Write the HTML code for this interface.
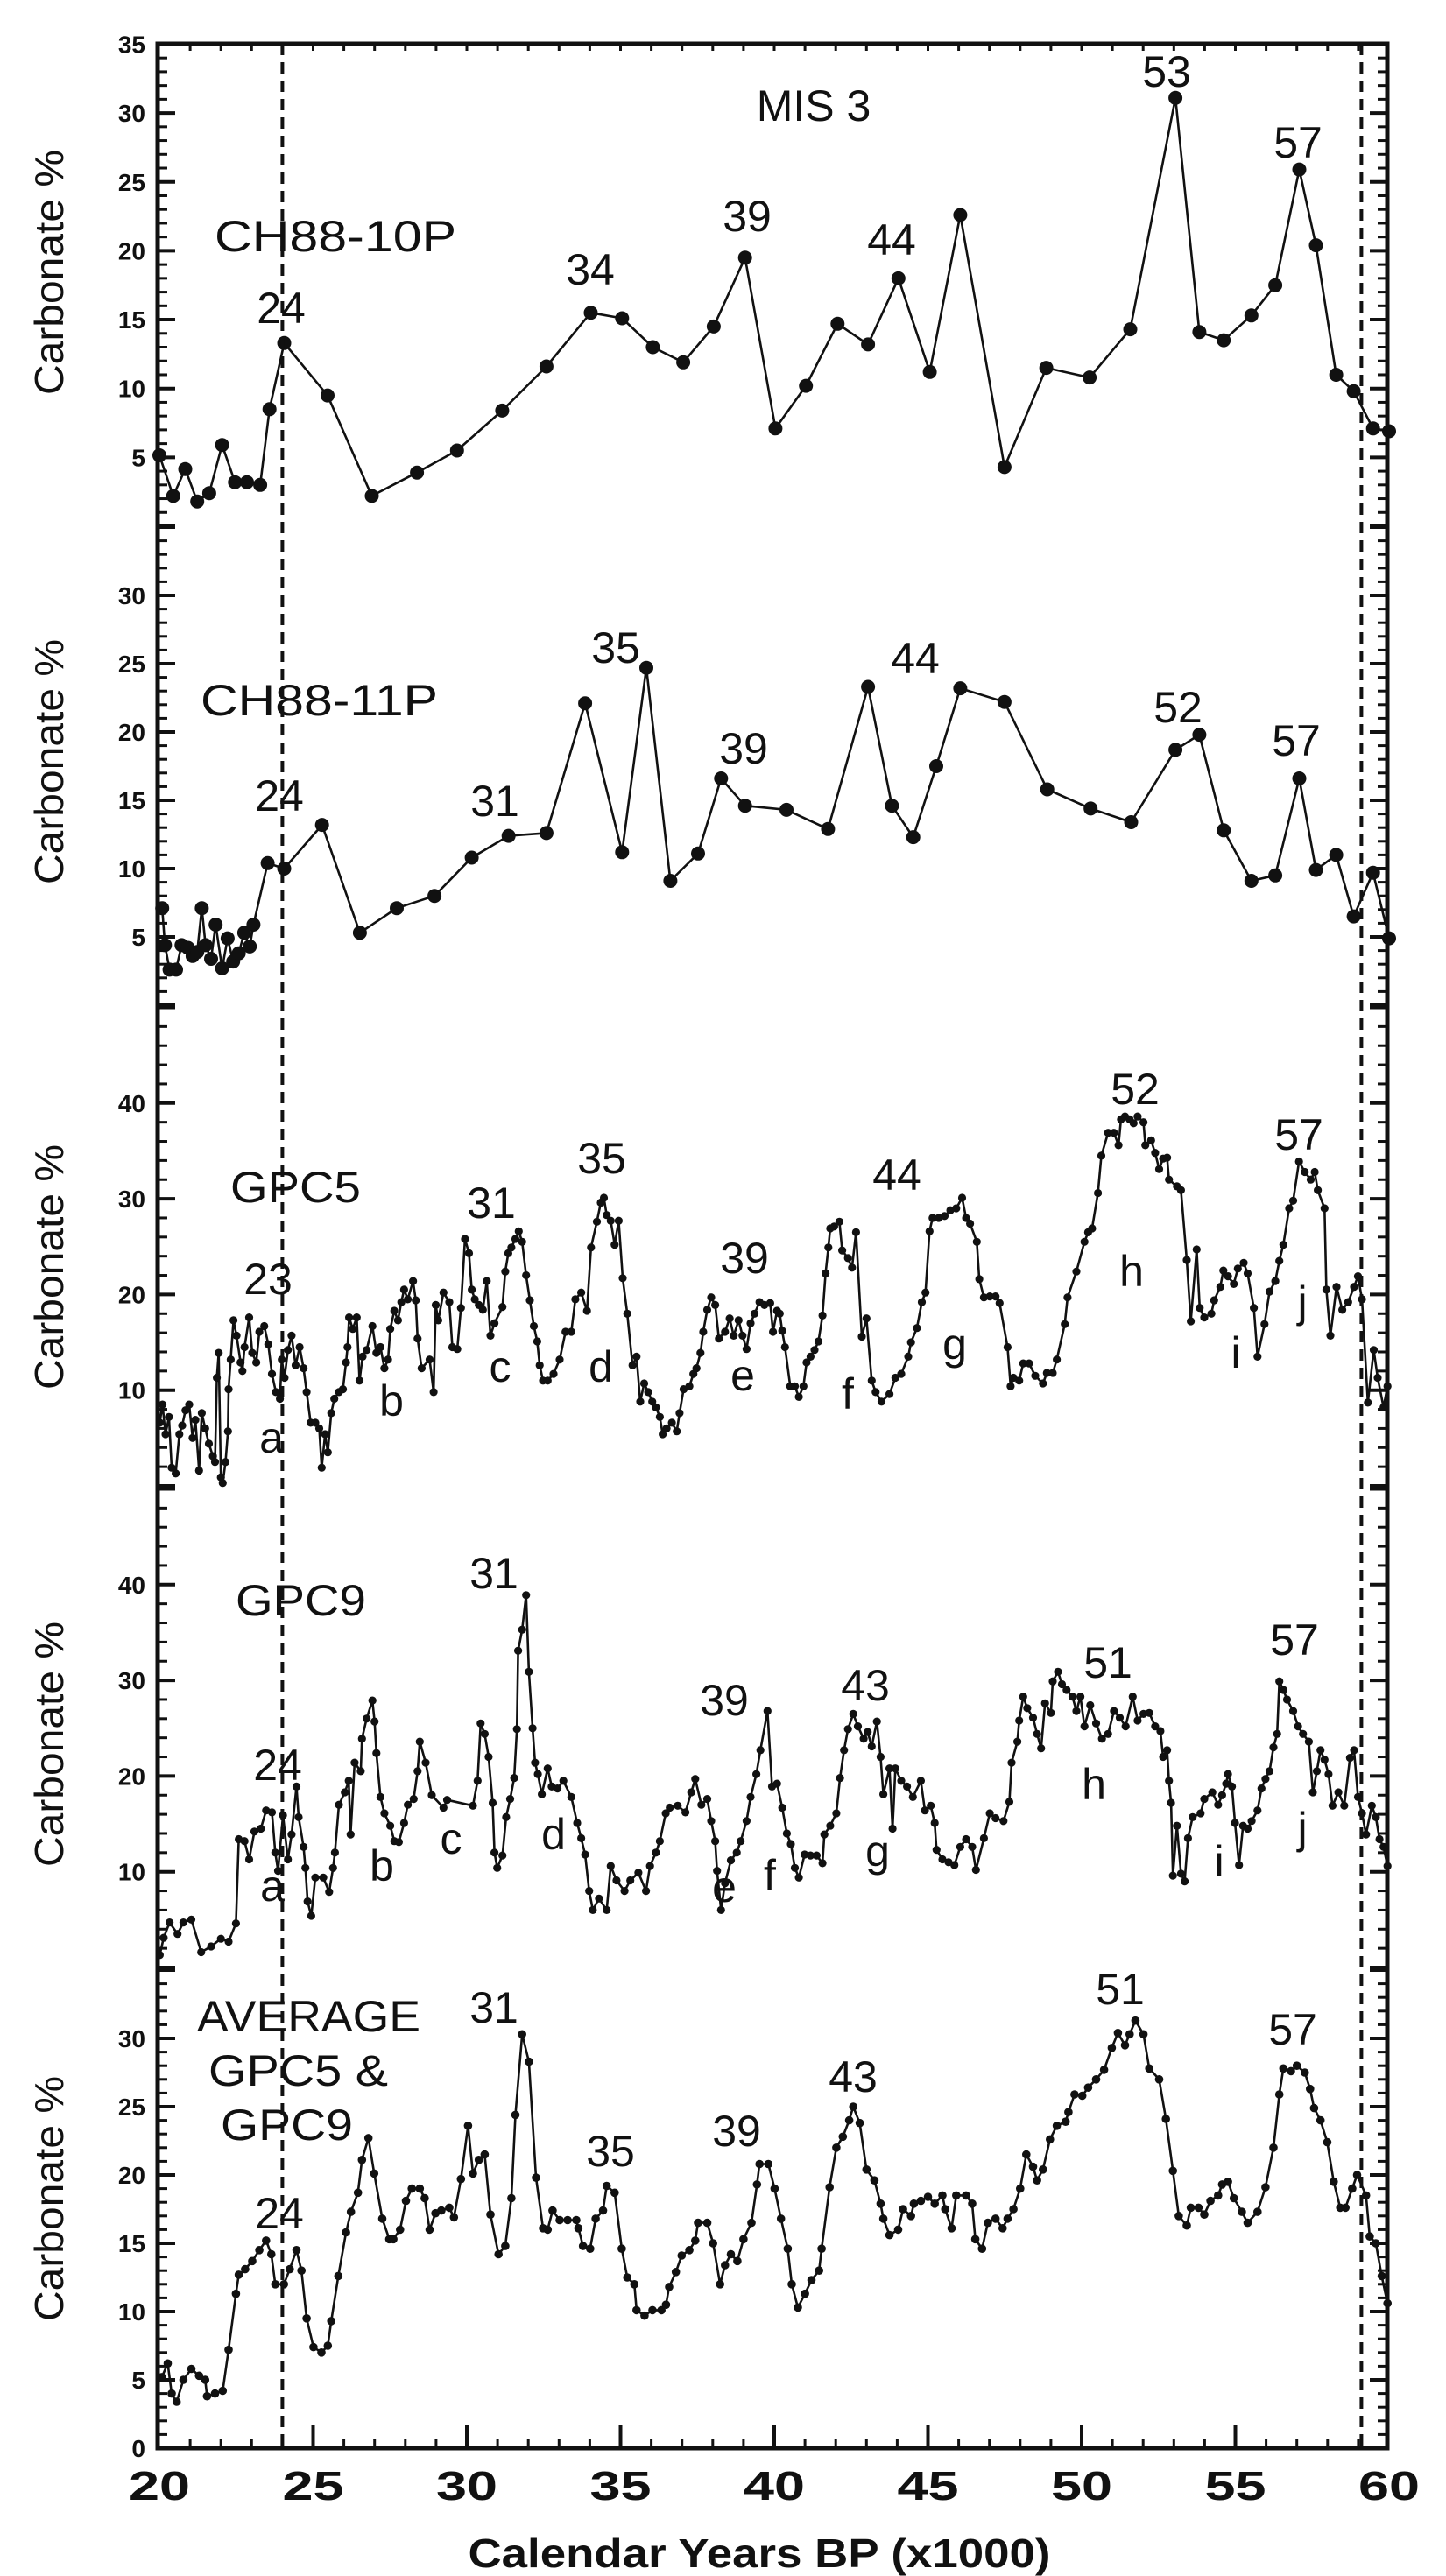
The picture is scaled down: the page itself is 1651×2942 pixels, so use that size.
<!DOCTYPE html>
<html><head><meta charset="utf-8"><title>Carbonate % MIS 3</title>
<style>
html,body{margin:0;padding:0;background:#fff;}
svg{display:block;}
.tl{font-family:"Liberation Sans",Arial,sans-serif;font-weight:bold;font-size:28px;fill:#111;}
.xl{font-family:"Liberation Sans",Arial,sans-serif;font-weight:bold;font-size:46px;fill:#111;}
.an{font-family:"Liberation Sans",Arial,sans-serif;font-size:50px;fill:#111;}
.yt{font-family:"Liberation Sans",Arial,sans-serif;font-size:46px;fill:#111;}
</style></head>
<body>
<svg id="chart" width="1651" height="2942" viewBox="0 0 1651 2942" xmlns="http://www.w3.org/2000/svg">
<rect x="0" y="0" width="1651" height="2942" fill="#fff"/>
<g id="ticks"></g>
<g id="series"></g>
<g id="labels">
<text class="an" x="929" y="138" text-anchor="middle" font-size="52">MIS 3</text>
<text class="an" x="245" y="287" textLength="276" lengthAdjust="spacingAndGlyphs">CH88-10P</text>
<text class="an" x="229" y="817" textLength="271" lengthAdjust="spacingAndGlyphs">CH88-11P</text>
<text class="an" x="263" y="1373" textLength="149" lengthAdjust="spacingAndGlyphs">GPC5</text>
<text class="an" x="269" y="1845" textLength="149" lengthAdjust="spacingAndGlyphs">GPC9</text>
<text class="an" x="225" y="2320" textLength="255" lengthAdjust="spacingAndGlyphs">AVERAGE</text>
<text class="an" x="238" y="2382" textLength="205" lengthAdjust="spacingAndGlyphs">GPC5 &amp;</text>
<text class="an" x="252" y="2444" textLength="151" lengthAdjust="spacingAndGlyphs">GPC9</text>
</g>
<g id="frame"></g>
</svg>
<script>
// ---- data ----
const xTickLabels=[20,25,30,35,40,45,50,55,60];
const p1Ticks=[5,10,15,20,25,30,35];
const p2Ticks=[5,10,15,20,25,30];
const p3Ticks=[10,20,30,40];
const p4Ticks=[10,20,30,40];
const p5Ticks=[0,5,10,15,20,25,30];

const p1Years=[20.0,20.45,20.84,21.23,21.62,22.04,22.46,22.85,23.28,23.58,24.06,25.47,26.91,28.38,29.68,31.15,32.59,34.03,35.05,36.05,37.04,38.03,39.05,40.04,41.03,42.06,43.05,44.04,45.06,46.05,47.49,48.85,50.26,51.58,53.05,53.83,54.62,55.52,56.30,57.08,57.62,58.28,58.85,59.48,60.0];
const p1Vals=[5.15,2.2,4.15,1.8,2.4,5.9,3.2,3.2,3.0,8.5,13.3,9.5,2.2,3.9,5.5,8.4,11.6,15.5,15.1,13.0,11.9,14.5,19.5,7.1,10.2,14.7,13.2,18.0,11.2,22.6,4.3,11.5,10.8,14.3,31.1,14.1,13.5,15.3,17.5,25.9,20.4,11.0,9.8,7.1,6.9];

const p2Years=[20.09,20.18,20.33,20.54,20.72,20.93,21.08,21.23,21.38,21.50,21.68,21.83,22.04,22.22,22.40,22.58,22.76,22.94,23.06,23.52,24.06,25.29,26.52,27.72,28.95,30.16,31.36,32.59,33.85,35.05,35.84,36.62,37.52,38.27,39.05,40.40,41.75,43.05,43.83,44.52,45.27,46.05,47.49,48.88,50.29,51.61,53.05,53.83,54.62,55.52,56.30,57.08,57.62,58.28,58.85,59.48,60.0];
const p2Vals=[7.1,4.4,2.6,2.6,4.4,4.2,3.6,3.9,7.1,4.4,3.4,5.9,2.7,4.9,3.2,3.8,5.3,4.3,5.9,10.4,10.0,13.2,5.3,7.1,8.0,10.8,12.4,12.6,22.1,11.2,24.7,9.1,11.1,16.6,14.6,14.3,12.9,23.3,14.6,12.3,17.5,23.2,22.2,15.8,14.4,13.4,18.7,19.8,12.8,9.1,9.5,16.6,9.9,11.0,6.5,9.7,4.9];

const gpc5Years=[20.01,20.10,20.20,20.31,20.40,20.53,20.65,20.74,20.85,20.97,21.08,21.17,21.29,21.38,21.49,21.61,21.74,21.81,21.87,21.93,22.00,22.06,22.15,22.23,22.25,22.32,22.41,22.51,22.64,22.70,22.77,22.92,23.02,23.15,23.25,23.41,23.54,23.66,23.79,23.92,23.98,24.07,24.18,24.30,24.43,24.56,24.69,24.79,24.92,25.07,25.20,25.28,25.39,25.48,25.59,25.69,25.84,25.97,26.07,26.12,26.17,26.29,26.42,26.51,26.61,26.74,26.93,27.06,27.19,27.32,27.44,27.51,27.64,27.76,27.87,27.96,28.08,28.25,28.34,28.40,28.53,28.79,28.92,28.99,29.07,29.24,29.43,29.53,29.69,29.81,29.94,30.07,30.16,30.26,30.39,30.52,30.65,30.77,30.90,31.16,31.25,31.35,31.45,31.58,31.69,31.80,31.93,32.05,32.18,32.29,32.37,32.48,32.63,32.82,33.02,33.21,33.40,33.53,33.72,33.91,34.04,34.23,34.36,34.46,34.55,34.68,34.81,34.94,35.07,35.22,35.39,35.52,35.64,35.77,35.90,36.03,36.15,36.28,36.37,36.50,36.67,36.83,36.92,37.05,37.24,37.37,37.47,37.60,37.69,37.82,37.95,38.08,38.20,38.40,38.55,38.68,38.84,38.97,39.10,39.23,39.36,39.52,39.68,39.87,39.96,
40.09,40.18,40.26,40.35,40.52,40.67,40.80,40.95,41.05,41.18,41.31,41.44,41.57,41.67,41.76,41.82,41.95,42.12,42.21,42.40,42.53,42.66,42.85,43.00,43.17,43.30,43.49,43.75,43.94,44.13,44.36,44.45,44.64,44.80,44.92,45.05,45.15,45.35,45.54,45.73,45.92,46.11,46.24,46.37,46.59,46.67,46.82,47.01,47.20,47.33,47.59,47.69,47.78,47.97,48.10,48.29,48.49,48.74,48.87,49.06,49.19,49.45,49.54,49.83,50.09,50.21,50.34,50.53,50.64,50.86,51.05,51.20,51.28,51.41,51.56,51.69,51.82,52.01,52.07,52.26,52.39,52.52,52.65,52.78,52.84,53.10,53.23,53.42,53.55,53.74,53.84,53.99,54.22,54.31,54.51,54.61,54.76,54.95,55.08,55.27,55.40,55.60,55.72,55.95,56.11,56.30,56.43,56.56,56.75,56.88,57.07,57.26,57.45,57.58,57.68,57.90,57.96,58.09,58.29,58.48,58.67,58.86,58.99,59.12,59.31,59.50,59.63,59.82,59.95];
const gpc5Vals=[6.6,8.5,5.4,7.2,1.9,1.3,5.4,6.3,7.9,8.5,5.0,6.9,1.6,7.6,6.0,4.4,3.1,2.5,11.3,13.9,0.9,0.3,2.5,5.7,10.1,13.2,17.3,15.7,12.9,12.0,14.5,17.6,13.9,12.9,16.1,16.7,14.8,11.7,9.8,9.1,13.2,11.3,14.2,15.7,12.6,14.5,12.3,9.8,6.6,6.6,6.0,1.9,5.4,3.5,7.6,9.1,9.8,10.1,12.9,14.5,17.6,16.4,17.6,11.0,13.5,14.2,16.7,13.9,14.5,12.3,13.2,16.4,18.3,17.3,19.2,20.5,19.5,21.4,19.4,15.4,12.3,13.2,9.8,18.9,17.3,20.2,19.2,14.5,14.3,18.6,25.8,24.3,20.5,19.5,18.9,18.4,21.4,15.7,17.0,18.7,22.4,24.3,24.9,25.8,26.6,25.5,22.0,19.4,16.7,15.1,12.6,11.0,11.0,11.7,13.2,16.1,16.1,19.5,20.2,18.3,24.9,27.6,29.6,30.1,28.3,27.7,25.2,27.7,21.7,18.0,12.6,13.5,8.8,10.7,9.8,8.8,8.2,7.2,5.4,6.0,6.6,5.7,7.6,10.1,10.4,11.7,12.3,13.9,16.1,18.4,19.7,18.9,15.4,16.1,17.5,15.7,17.3,15.7,14.3,17.0,18.0,19.2,18.9,19.1,16.1,
18.3,18.0,16.2,14.5,10.4,10.4,9.3,10.4,12.9,13.5,14.2,15.1,17.8,22.2,24.9,26.9,27.1,27.6,24.6,23.8,22.8,26.5,15.6,17.5,11.0,9.8,8.8,9.6,11.3,11.7,13.5,15.0,16.5,19.2,20.2,26.6,28.0,28.0,28.2,28.8,29.0,30.1,28.0,27.4,25.5,21.6,19.7,19.8,19.8,19.1,14.5,10.4,11.3,11.0,12.8,12.8,11.5,10.7,11.8,11.8,13.2,16.9,19.7,22.4,25.5,26.5,26.9,30.6,34.5,36.9,36.9,35.6,38.3,38.6,38.3,37.9,38.6,38.0,35.6,36.1,34.8,33.1,34.2,34.3,32.0,31.3,30.9,23.6,17.2,24.7,18.6,17.6,18.0,19.4,20.8,22.5,21.9,21.1,22.7,23.3,22.2,18.6,13.5,16.9,20.3,21.4,23.5,25.2,29.0,29.8,33.9,32.8,32.0,32.8,30.9,29.0,20.5,15.7,20.8,18.4,19.2,20.8,21.9,19.5,8.7,14.2,11.3,8.2,10.4];

const gpc9Years=[20.01,20.14,20.33,20.59,20.78,21.04,21.36,21.68,22.00,22.25,22.49,22.58,22.77,22.92,23.09,23.30,23.47,23.66,23.77,23.86,24.02,24.18,24.30,24.46,24.53,24.69,24.75,24.82,24.94,25.07,25.33,25.52,25.65,25.71,25.84,26.03,26.16,26.22,26.35,26.55,26.59,26.74,26.93,27.00,27.06,27.19,27.32,27.51,27.64,27.79,27.96,28.08,28.27,28.40,28.47,28.66,28.86,29.24,29.36,30.20,30.35,30.45,30.58,30.71,30.84,30.90,30.99,31.16,31.28,31.41,31.54,31.63,31.67,31.80,31.93,32.02,32.14,32.22,32.31,32.44,32.63,32.76,32.95,33.14,33.40,33.59,33.72,33.85,33.98,34.10,34.30,34.55,34.68,34.87,35.13,35.32,35.58,35.83,35.96,36.15,36.28,36.47,36.60,36.86,37.11,37.30,37.43,37.63,37.82,37.95,38.08,38.14,38.27,38.40,38.59,38.78,38.91,39.10,39.23,39.42,39.55,39.78,39.93,
40.09,40.26,40.41,40.54,40.67,40.80,40.99,41.18,41.38,41.57,41.63,41.82,42.02,42.14,42.27,42.40,42.57,42.72,42.91,43.04,43.17,43.34,43.46,43.55,43.75,43.85,43.94,44.13,44.32,44.51,44.77,44.90,45.09,45.22,45.28,45.47,45.67,45.86,46.05,46.24,46.44,46.56,46.82,47.01,47.20,47.46,47.65,47.72,47.91,47.97,48.10,48.23,48.42,48.55,48.68,48.81,49.00,49.06,49.23,49.36,49.51,49.70,49.83,49.96,50.09,50.28,50.47,50.66,50.86,51.05,51.24,51.43,51.66,51.82,52.01,52.20,52.39,52.56,52.65,52.78,52.84,52.91,52.97,53.10,53.23,53.35,53.46,53.61,53.87,53.99,54.25,54.44,54.57,54.70,54.76,54.89,54.99,55.12,55.25,55.40,55.53,55.72,55.85,55.98,56.11,56.24,56.36,56.43,56.56,56.68,56.88,57.04,57.20,57.39,57.52,57.65,57.77,57.90,58.03,58.16,58.35,58.54,58.73,58.86,58.99,59.12,59.25,59.44,59.57,59.69,59.82,59.95];
const gpc9Vals=[1.3,3.1,4.7,3.5,4.7,5.0,1.6,2.2,3.0,2.7,4.6,13.4,13.2,11.3,14.2,14.5,16.4,16.2,12.0,10.1,15.9,11.3,13.9,18.9,15.7,12.6,10.4,6.9,5.4,9.4,9.4,7.9,10.4,12.0,17.0,18.3,19.5,13.9,21.4,20.5,23.9,26.0,27.9,25.7,22.4,17.8,16.1,14.8,13.2,13.1,15.1,17.0,17.6,20.5,23.6,21.4,18.0,16.7,17.5,16.9,19.5,25.5,24.4,22.0,17.2,12.0,10.4,11.7,15.7,17.6,19.8,24.9,33.1,35.3,38.9,30.9,25.0,21.4,20.2,18.1,20.8,18.9,18.7,19.5,17.8,15.1,13.5,11.8,8.0,6.0,7.2,6.0,10.6,9.1,8.0,9.1,9.9,8.0,10.6,12.0,13.2,16.1,16.7,16.9,16.2,18.3,19.7,17.0,17.6,15.3,13.2,10.1,6.0,8.8,11.2,12.0,13.2,15.3,17.8,20.2,22.7,26.8,18.9,
19.2,16.7,14.0,12.9,10.4,9.4,11.8,11.7,11.7,10.9,13.9,14.8,16.1,19.8,22.7,24.9,26.5,25.2,23.9,24.6,23.1,25.7,22.0,18.1,20.8,14.5,20.8,19.5,18.9,17.8,19.5,16.4,16.9,15.1,12.3,11.3,11.0,10.7,12.6,13.4,12.6,10.2,13.5,16.1,15.6,15.3,17.3,21.4,23.6,25.8,28.3,27.1,26.1,24.4,22.9,27.6,26.6,29.9,30.9,29.6,29.0,28.3,26.8,28.3,25.2,27.4,25.5,23.9,24.4,26.8,26.1,25.2,28.3,25.8,26.5,26.6,25.2,24.7,22.0,22.7,19.5,17.2,9.6,14.8,9.8,9.0,13.5,15.7,16.1,17.6,18.3,17.0,18.0,19.2,20.2,18.9,15.1,10.7,14.8,14.5,15.3,16.4,18.7,19.7,20.5,23.0,24.4,29.9,29.0,28.0,26.8,25.2,24.4,23.6,18.3,20.5,22.7,21.7,20.2,16.9,18.3,16.9,21.9,22.7,17.8,16.1,13.9,16.9,15.7,13.4,12.6,10.6];

const avgYears=[20.08,20.27,20.40,20.56,20.78,21.04,21.29,21.49,21.55,21.81,22.06,22.25,22.49,22.58,22.79,23.02,23.25,23.47,23.64,23.77,24.05,24.24,24.46,24.62,24.79,25.01,25.27,25.48,25.59,25.82,26.07,26.23,26.46,26.59,26.80,26.99,27.25,27.48,27.61,27.83,28.02,28.21,28.47,28.63,28.79,28.98,29.17,29.43,29.58,29.81,30.04,30.20,30.39,30.58,30.77,31.03,31.25,31.45,31.58,31.80,32.02,32.25,32.48,32.63,32.79,33.02,33.28,33.56,33.63,33.78,34.01,34.19,34.43,34.55,34.81,35.04,35.22,35.45,35.52,35.78,36.04,36.33,36.48,36.58,36.80,36.99,37.24,37.43,37.52,37.82,38.01,38.24,38.40,38.59,38.80,39.00,39.26,39.44,39.52,39.81,40.01,
40.22,40.44,40.57,40.77,41.00,41.21,41.46,41.54,41.80,42.02,42.23,42.44,42.57,42.78,43.00,43.26,43.46,43.55,43.75,44.03,44.19,44.45,44.54,44.77,45.00,45.22,45.47,45.56,45.77,45.92,46.24,46.44,46.54,46.76,46.95,47.20,47.43,47.59,47.78,48.00,48.20,48.42,48.55,48.74,48.97,49.19,49.48,49.57,49.77,50.02,50.21,50.47,50.73,50.98,51.18,51.41,51.56,51.75,52.01,52.20,52.52,52.74,52.97,53.16,53.42,53.55,53.80,53.99,54.19,54.44,54.57,54.76,54.95,55.21,55.40,55.72,55.98,56.24,56.43,56.56,56.81,57.00,57.26,57.43,57.56,57.77,57.99,58.20,58.41,58.58,58.80,58.96,59.25,59.37,59.57,59.76,59.95];
const avgVals=[5.2,6.2,4.0,3.4,5.0,5.8,5.3,5.0,3.8,4.0,4.2,7.2,11.3,12.7,13.1,13.7,14.5,15.2,14.2,12.0,12.0,13.1,14.5,13.0,9.5,7.4,7.0,7.5,9.3,12.6,15.8,17.3,18.7,21.1,22.7,20.1,16.8,15.3,15.3,16.0,18.1,19.0,19.0,18.3,16.0,17.2,17.4,17.6,16.9,19.7,23.6,20.1,21.1,21.5,17.1,14.2,14.8,18.3,24.4,30.3,28.3,19.8,16.1,16.0,17.4,16.7,16.7,16.7,16.1,14.8,14.6,16.8,17.4,19.2,18.7,14.6,12.5,12.0,10.1,9.7,10.1,10.1,10.5,11.8,12.9,14.1,14.5,15.2,16.5,16.5,15.0,12.0,13.4,14.2,13.7,15.3,16.5,19.3,20.8,20.8,19.0,
16.8,14.6,12.0,10.3,11.3,12.3,13.0,14.6,19.1,22.0,22.8,24.0,25.0,23.8,20.4,19.6,17.9,16.8,15.6,16.0,17.5,17.0,17.9,18.1,18.4,17.9,18.5,17.5,16.1,18.5,18.5,17.9,15.3,14.6,16.5,16.8,16.1,16.8,17.5,19.0,21.5,20.6,19.6,20.4,22.6,23.6,23.9,24.6,25.9,25.8,26.4,27.0,27.7,29.3,30.4,29.5,30.3,31.3,30.3,27.8,27.0,24.1,20.3,17.0,16.3,17.6,17.6,17.1,18.1,18.5,19.3,19.5,18.3,17.3,16.5,17.3,19.1,22.0,25.9,27.8,27.6,28.0,27.5,26.3,24.9,24.0,22.4,19.5,17.6,17.6,19.0,20.0,18.5,15.5,15.0,12.6,10.6];

// ---- geometry ----
const NS='http://www.w3.org/2000/svg';
const XL=180, XR=1584, YT=50, YB=2796;
function xs(yr){return 182+(yr-20)*35.1;}
function yP1(v){return 601-15.73*v;}
function yP2(v){return 1148-15.6*v;}
function yP3(v){return 1697-10.93*v;}
function yP4(v){return 2247-10.93*v;}
function yP5(v){return 2796-15.6*v;}
function mk(tag,attrs,parent){const e=document.createElementNS(NS,tag);for(const k in attrs)e.setAttribute(k,attrs[k]);parent.appendChild(e);return e;}

const ticks=document.getElementById('ticks');
const frame=document.getElementById('frame');
const series=document.getElementById('series');

const fr=mk('rect',{x:XL,y:YT,width:XR-XL,height:YB-YT,fill:'none',stroke:'#111','stroke-width':5},frame);



[24,59.1].forEach(function(yr,i){
  const l=mk('line',{x1:xs(yr),x2:xs(yr),y1:YT,y2:YB,stroke:'#111','stroke-width':4,'stroke-dasharray':'13 8'},frame);
  
  
});

function yAxis(fn,maxV,major,minor,labels,name){
  for(let v=0;v<=maxV+0.001;v+=minor){
    const y=fn(v);
    if(y<YT-1||y>YB+1)continue;
    const isMaj=Math.abs(v/major-Math.round(v/major))<0.001;
    const len=isMaj?20:11;
    mk('line',{x1:XL,x2:XL+len,y1:y,y2:y,stroke:'#111','stroke-width':isMaj?4:3},ticks);
    mk('line',{x1:XR,x2:XR-len,y1:y,y2:y,stroke:'#111','stroke-width':isMaj?4:3},ticks);
  }
  labels.forEach(function(v){
    const t=mk('text',{class:'tl',x:166,y:fn(v)+10,'text-anchor':'end'},ticks);
    t.textContent=v;
    
    
  });
}
yAxis(yP1,35,5,1,p1Ticks,'p1-y');
yAxis(yP2,35,5,1,p2Ticks,'p2-y');
yAxis(yP3,50,10,2,p3Ticks,'p3-y');
yAxis(yP4,50,10,2,p4Ticks,'p4-y');
yAxis(yP5,35,5,1,p5Ticks,'p5-y');

for(let yr=21;yr<60;yr++){
  const x=xs(yr);const maj=(yr%5===0);
  mk('line',{x1:x,x2:x,y1:YB,y2:YB-(maj?26:11),stroke:'#111','stroke-width':maj?4:3},ticks);
  mk('line',{x1:x,x2:x,y1:YT,y2:YT+8,stroke:'#111','stroke-width':3},ticks);
}
xTickLabels.forEach(function(v){
  const t=mk('text',{class:'xl',x:xs(v),y:2855,'text-anchor':'middle',textLength:70,lengthAdjust:'spacingAndGlyphs'},ticks);
  t.textContent=v;
  
  
});
const xt=mk('text',{class:'xl',x:867,y:2932,'text-anchor':'middle',textLength:665,lengthAdjust:'spacingAndGlyphs','font-size':44},ticks);
xt.textContent='Calendar Years BP (x1000)';



[311,870,1447,1992,2511].forEach(function(cy,i){
  const t=mk('text',{class:'yt',x:0,y:0,'text-anchor':'middle',textLength:280,lengthAdjust:'spacingAndGlyphs',transform:'translate(72,'+cy+') rotate(-90)'},ticks);
  t.textContent='Carbonate %';
  
  
});

function drawSeries(years,vals,fn,r,name){
  const g=mk('g',{},series);
  
  
  let d='';
  for(let i=0;i<years.length;i++){d+=(i?'L':'M')+xs(years[i]).toFixed(1)+' '+fn(vals[i]).toFixed(1);}
  const p=mk('path',{d:d,fill:'none',stroke:'#111','stroke-width':2.6,'stroke-linejoin':'round'},g);
  
  
  for(let i=0;i<years.length;i++){
    const c=mk('circle',{cx:xs(years[i]).toFixed(1),cy:fn(vals[i]).toFixed(1),r:r,fill:'#111'},g);
    
    
  }
}
drawSeries(p1Years,p1Vals,yP1,8,'ch88-10p-series');
drawSeries(p2Years,p2Vals,yP2,8,'ch88-11p-series');
drawSeries(gpc5Years,gpc5Vals,yP3,4.6,'gpc5-series');
drawSeries(gpc9Years,gpc9Vals,yP4,4.6,'gpc9-series');
drawSeries(avgYears,avgVals,yP5,4.8,'average-series');

const annTexts=['24','34','39','44','53','57','24','31','35','39','44','52','57',
'23','a','b','31','c','35','d','39','e','44','f','g','52','h','i','57','j',
'24','a','b','c','31','d','39','e','f','43','g','51','h','i','57','j',
'31','24','35','39','43','51','57'];
const annX=[321,674,853,1018,1332,1482,319,565,703,849,1045,1345,1480,
306,310,447,561,571,687,686,850,848,1024,968,1090,1296,1292,1411,1483,1487,
317,311,436,515,564,632,827,827,879,988,1002,1265,1249,1392,1478,1487,
564,319,697,841,974,1279,1476];
const annY=[369,325,264,291,99,180,926,932,757,872,769,825,863,
1478,1659,1617,1391,1578,1340,1578,1454,1588,1359,1609,1552,1261,1469,1562,1313,1504,
2033,2171,2148,2117,1814,2112,1959,2172,2159,1942,2131,1916,2055,2143,1890,2105,
2310,2545,2474,2451,2389,2289,2335];
const lab=document.getElementById('labels');
for(let i=0;i<annTexts.length;i++){
  const t=mk('text',{class:'an',x:annX[i],y:annY[i],'text-anchor':'middle'},lab);
  t.textContent=annTexts[i];
  
  
}
</script>
</body></html>
